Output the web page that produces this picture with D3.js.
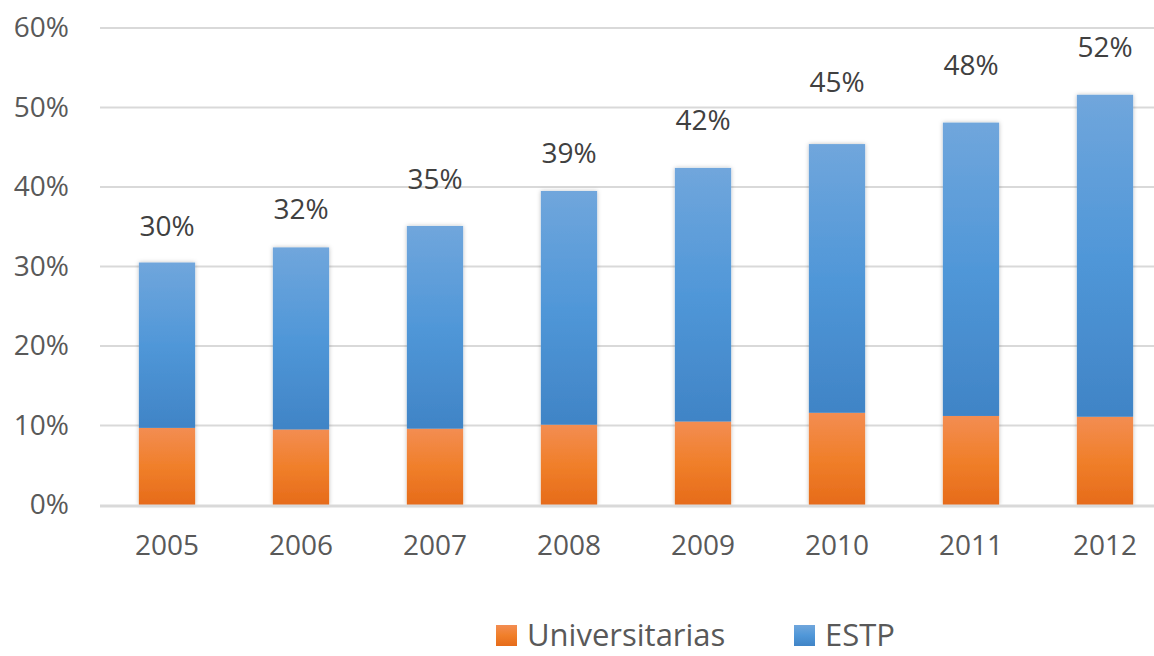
<!DOCTYPE html>
<html>
<head>
<meta charset="utf-8">
<script src="https://cdn.jsdelivr.net/npm/d3@7"></script>
<style>
  body { margin: 0; background: #fff; }
  svg { display: block; font-family: "Open Sans", sans-serif; }
</style>
</head>
<body>
<div class="chart"></div>
<script>
var years = ["2005", "2006", "2007", "2008", "2009", "2010", "2011", "2012"];
var universitarias = [9.7, 9.5, 9.6, 10.1, 10.5, 11.6, 11.2, 11.1];
var estp = [20.8, 22.9, 25.5, 29.4, 31.9, 33.8, 36.9, 40.5];
var totalLabels = ["30%", "32%", "35%", "39%", "42%", "45%", "48%", "52%"];
// value (in %) at which each total label sits
var labelAt = [33.8, 36.0, 39.7, 43.0, 47.2, 52.0, 54.1, 56.4];
var yTicks = [0, 10, 20, 30, 40, 50, 60];
var seriesNames = ["Universitarias", "ESTP"];

var svgWidth = 1154;
var svgHeight = 656;

var margin = { top: 28, right: -18, bottom: 151, left: 100 };
var width = svgWidth - margin.left - margin.right;
var height = svgHeight - margin.top - margin.bottom;

var svg = d3.select(".chart")
  .append("svg")
  .attr("width", svgWidth)
  .attr("height", svgHeight);

var defs = svg.append("defs");

var gradOrange = defs.append("linearGradient")
  .attr("id", "gOrange").attr("x1", 0).attr("y1", 0).attr("x2", 0).attr("y2", 1);
gradOrange.append("stop").attr("offset", "0%").attr("stop-color", "#f38d52");
gradOrange.append("stop").attr("offset", "50%").attr("stop-color", "#f07f2a");
gradOrange.append("stop").attr("offset", "100%").attr("stop-color", "#e66b1a");

var gradBlue = defs.append("linearGradient")
  .attr("id", "gBlue").attr("x1", 0).attr("y1", 0).attr("x2", 0).attr("y2", 1);
gradBlue.append("stop").attr("offset", "0%").attr("stop-color", "#70a6dc");
gradBlue.append("stop").attr("offset", "50%").attr("stop-color", "#5097d8");
gradBlue.append("stop").attr("offset", "100%").attr("stop-color", "#4084c6");

var shadow = defs.append("filter")
  .attr("id", "shadow").attr("x", "-20%").attr("y", "-5%")
  .attr("width", "140%").attr("height", "110%");
shadow.append("feDropShadow")
  .attr("dx", 0).attr("dy", 0).attr("stdDeviation", 2)
  .attr("flood-color", "#000").attr("flood-opacity", 0.25);

var chartGroup = svg.append("g")
  .attr("transform", `translate(${margin.left}, ${margin.top})`);

var xBandScale = d3.scaleBand()
  .domain(years)
  .range([0, width])
  .paddingInner(0.58)
  .paddingOuter(0.29);

var yLinearScale = d3.scaleLinear()
  .domain([0, 60])
  .range([height, 0]);

// gridlines
chartGroup.selectAll(".grid")
  .data(yTicks.filter(function(d) { return d > 0; }))
  .enter()
  .append("line")
  .attr("x1", 0)
  .attr("x2", width)
  .attr("y1", function(d) { return yLinearScale(d); })
  .attr("y2", function(d) { return yLinearScale(d); })
  .attr("stroke", "#d9d9d9")
  .attr("stroke-width", 2);

// stacked data
var data = years.map(function(y, i) {
  return { year: y, uni: universitarias[i], estp: estp[i], label: totalLabels[i], at: labelAt[i] };
});

var bars = chartGroup.selectAll(".bar")
  .data(data)
  .enter()
  .append("g")
  .attr("filter", "url(#shadow)");

bars.append("rect")
  .attr("x", function(d) { return xBandScale(d.year); })
  .attr("width", xBandScale.bandwidth())
  .attr("y", function(d) { return yLinearScale(d.uni); })
  .attr("height", function(d) { return height - yLinearScale(d.uni); })
  .attr("fill", "url(#gOrange)");

bars.append("rect")
  .attr("x", function(d) { return xBandScale(d.year); })
  .attr("width", xBandScale.bandwidth())
  .attr("y", function(d) { return yLinearScale(d.uni + d.estp); })
  .attr("height", function(d) { return yLinearScale(d.uni) - yLinearScale(d.uni + d.estp); })
  .attr("fill", "url(#gBlue)");

// baseline
chartGroup.append("line")
  .attr("x1", 0)
  .attr("x2", width)
  .attr("y1", height + 1)
  .attr("y2", height + 1)
  .attr("stroke", "#d9d9d9")
  .attr("stroke-width", 3);

// total labels
chartGroup.selectAll(".total")
  .data(data)
  .enter()
  .append("text")
  .attr("x", function(d) { return xBandScale(d.year) + xBandScale.bandwidth() / 2; })
  .attr("y", function(d) { return yLinearScale(d.at); })
  .attr("text-anchor", "middle")
  .attr("font-size", "28px")
  .attr("fill", "#404040")
  .text(function(d) { return d.label; });

// y axis labels
var leftAxis = d3.axisLeft(yLinearScale)
  .tickValues(yTicks)
  .tickFormat(function(d) { return d + "%"; })
  .tickSize(0)
  .tickPadding(31);

var yAxis = chartGroup.append("g").call(leftAxis);
yAxis.select(".domain").remove();
yAxis.selectAll("text")
  .attr("font-size", "28px")
  .attr("font-family", "Open Sans, sans-serif")
  .attr("fill", "#595959");

// x axis labels
var bottomAxis = d3.axisBottom(xBandScale).tickSize(0).tickPadding(30);
var xAxis = chartGroup.append("g")
  .attr("transform", `translate(0, ${height})`)
  .call(bottomAxis);
xAxis.select(".domain").remove();
xAxis.selectAll("text")
  .attr("font-size", "28px")
  .attr("font-family", "Open Sans, sans-serif")
  .attr("fill", "#595959");

// legend
var legendItems = [
  { name: seriesNames[0], fill: "url(#gOrange)", x: 496 },
  { name: seriesNames[1], fill: "url(#gBlue)", x: 794 }
];

var legend = svg.selectAll(".legend")
  .data(legendItems)
  .enter()
  .append("g")
  .attr("transform", function(d) { return `translate(${d.x}, 625)`; });

legend.append("rect")
  .attr("width", 21)
  .attr("height", 21)
  .attr("fill", function(d) { return d.fill; });

legend.append("text")
  .attr("x", 31)
  .attr("y", 21)
  .attr("font-size", "31px")
  .attr("fill", "#595959")
  .text(function(d) { return d.name; });
</script>
</body>
</html>
